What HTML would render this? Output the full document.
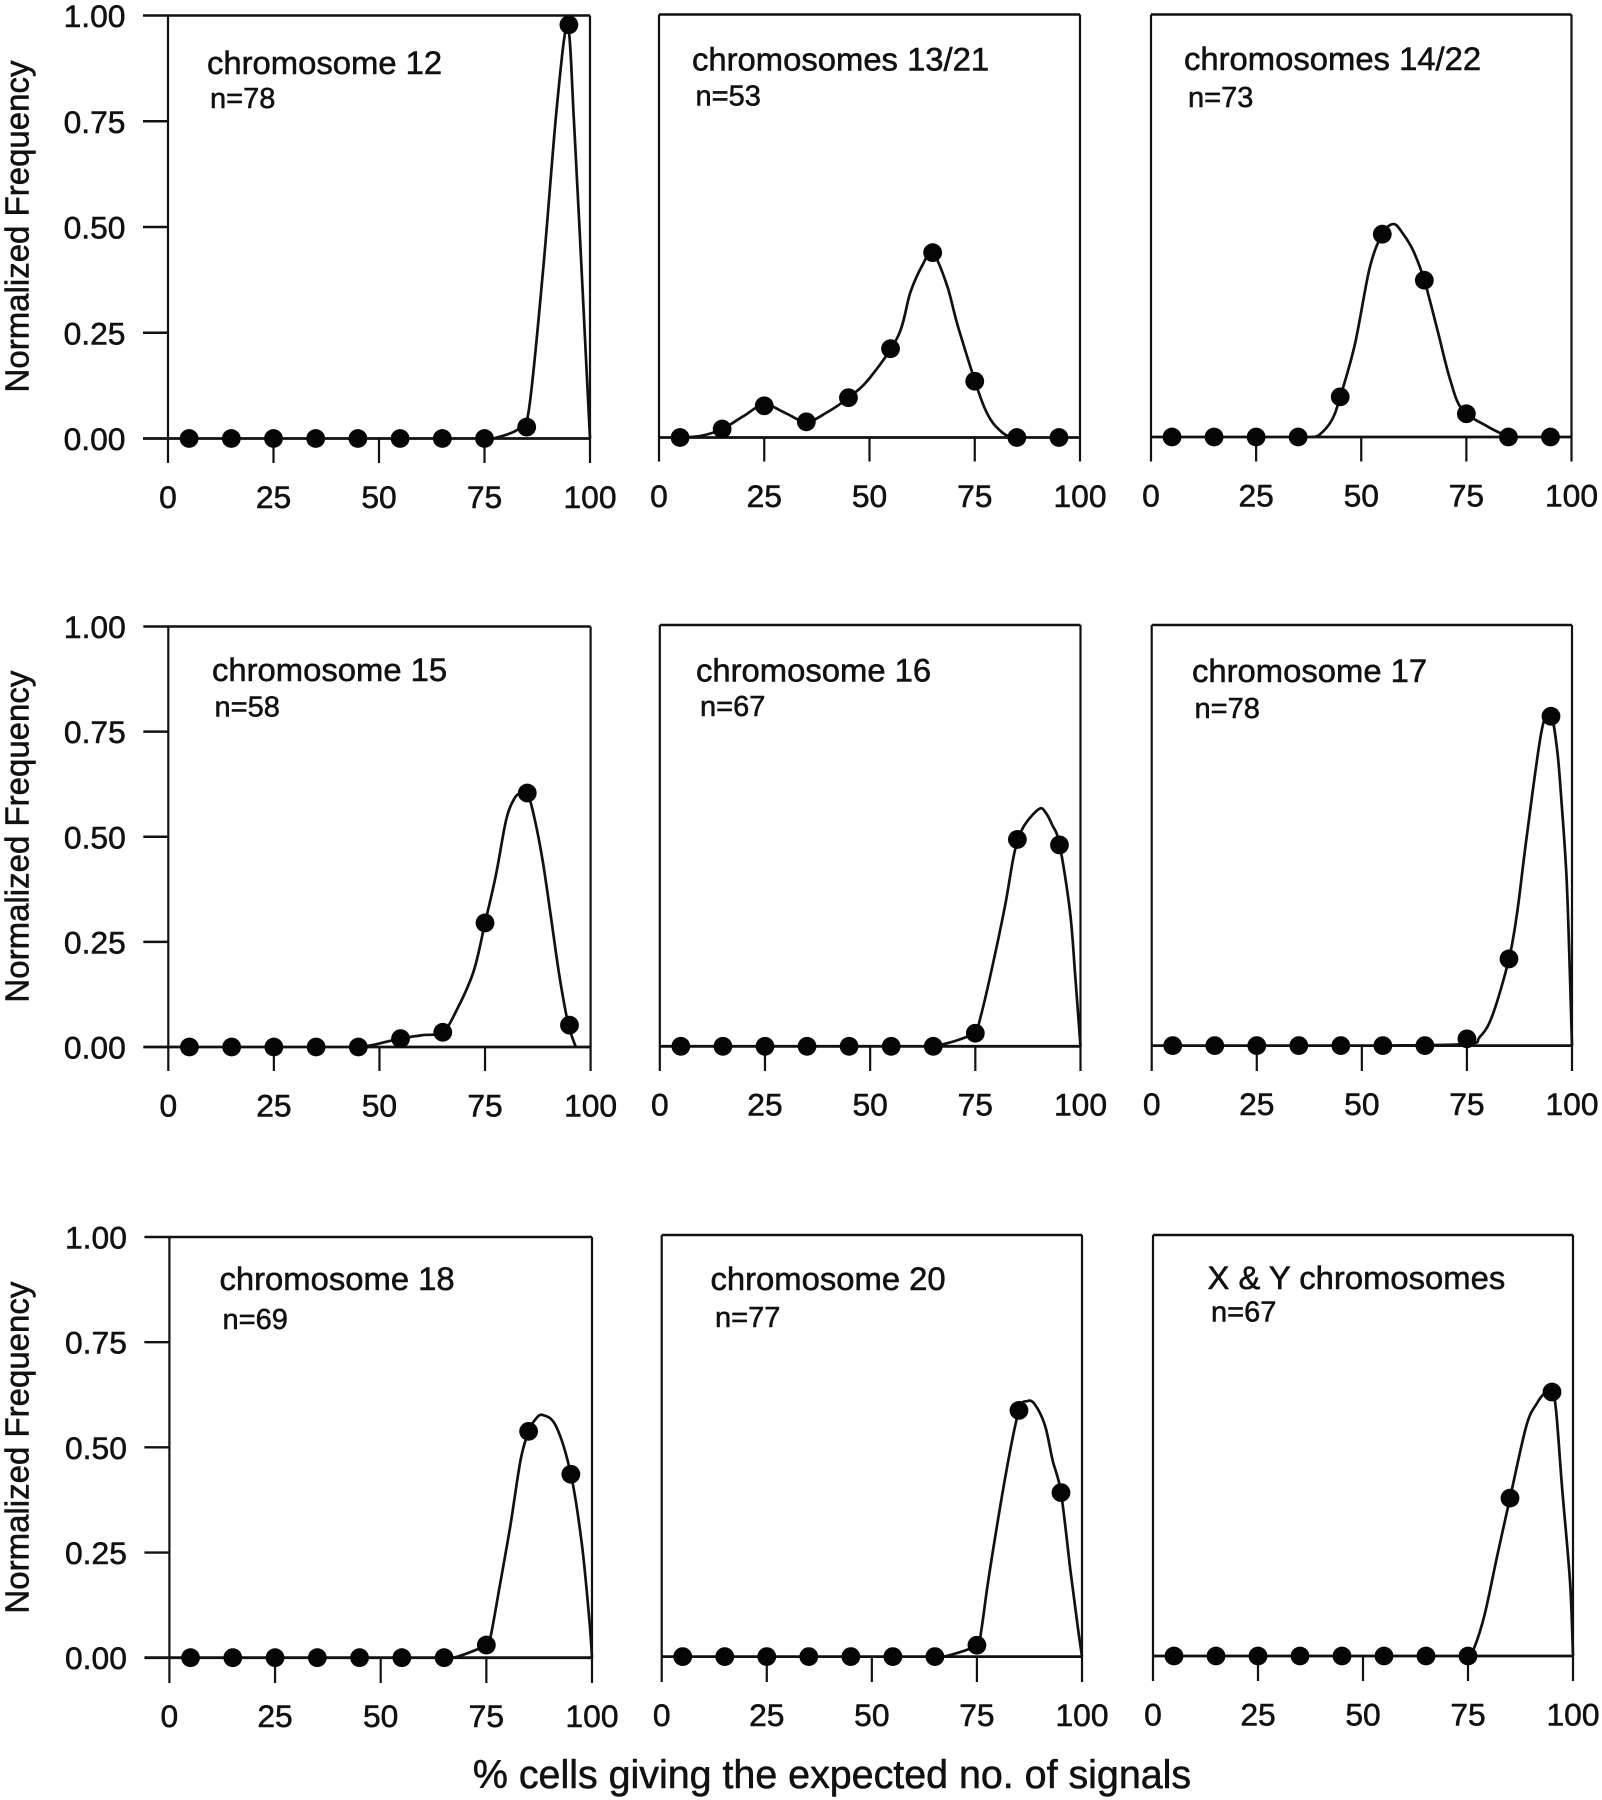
<!DOCTYPE html>
<html lang="en">
<head>
<meta charset="utf-8">
<title>Normalized frequency by chromosome</title>
<style>
html,body{margin:0;padding:0;background:#fff;width:1602px;height:1800px;overflow:hidden}
svg{display:block}
text{font-family:"Liberation Sans",Arial,sans-serif;fill:#111;stroke:#111;stroke-width:.55px}
.tick{font-size:31.8px}
.lbl{font-size:32.8px}
.n{font-size:29px}
</style>
</head>
<body>
<svg id="chart" width="1602" height="1800" viewBox="0 0 1602 1800" xmlns="http://www.w3.org/2000/svg">
<rect width="1602" height="1800" fill="#fff"/>
<text transform="translate(28.5,226.5) rotate(-90)" text-anchor="middle" font-size="33">Normalized Frequency</text>
<text transform="translate(28.5,836.6) rotate(-90)" text-anchor="middle" font-size="33">Normalized Frequency</text>
<text transform="translate(28.5,1447.6) rotate(-90)" text-anchor="middle" font-size="33">Normalized Frequency</text>
<text x="832" y="1788" text-anchor="middle" font-size="39.4">% cells giving the expected no. of signals</text>

<text class="lbl" x="207" y="74">chromosome 12</text>
<text class="n" x="210" y="108">n=78</text>
<text class="lbl" x="692" y="70.5">chromosomes 13/21</text>
<text class="n" x="695.5" y="105.5">n=53</text>
<text class="lbl" x="1184" y="70">chromosomes 14/22</text>
<text class="n" x="1188" y="107">n=73</text>
<text class="lbl" x="212" y="681">chromosome 15</text>
<text class="n" x="214.5" y="716.5">n=58</text>
<text class="lbl" x="696" y="681.5">chromosome 16</text>
<text class="n" x="700" y="716">n=67</text>
<text class="lbl" x="1192" y="682">chromosome 17</text>
<text class="n" x="1194.5" y="718">n=78</text>
<text class="lbl" x="219.5" y="1290">chromosome 18</text>
<text class="n" x="222.5" y="1329">n=69</text>
<text class="lbl" x="710.5" y="1290">chromosome 20</text>
<text class="n" x="715" y="1327">n=77</text>
<text class="lbl" x="1207.5" y="1289">X &amp; Y chromosomes</text>
<text class="n" x="1211" y="1321.5">n=67</text>
</svg>
<script>
// Shared axes
const bins = [5, 15, 25, 35, 45, 55, 65, 75, 85, 95];
const xTicks = [0, 25, 50, 75, 100];
const yTicks = [0, 0.25, 0.5, 0.75, 1];
const yTickLabels = ["0.00", "0.25", "0.50", "0.75", "1.00"];

// Points per panel (normalized frequency at each bin)
const valuesChr12 = [0, 0, 0, 0, 0, 0, 0, 0, 0.027, 0.978];
const valuesChr13 = [0, 0.02, 0.075, 0.037, 0.094, 0.21, 0.437, 0.133, 0, 0];
const valuesChr14 = [0, 0, 0, 0, 0.095, 0.48, 0.371, 0.055, 0, 0];
const valuesChr15 = [0, 0, 0, 0, 0, 0.02, 0.035, 0.295, 0.604, 0.052];
const valuesChr16 = [0, 0, 0, 0, 0, 0, 0, 0.031, 0.491, 0.478];
const valuesChr17 = [0, 0, 0, 0, 0, 0, 0, 0.016, 0.206, 0.783];
const valuesChr18 = [0, 0, 0, 0, 0, 0, 0, 0.03, 0.538, 0.436];
const valuesChr20 = [0, 0, 0, 0, 0, 0, 0, 0.027, 0.584, 0.389];
const valuesChrXY = [0, 0, 0, 0, 0, 0, 0, 0, 0.375, 0.627];

// Fitted curves
const curveXChr12 = [75, 77, 83, 85.5, 88.9, 92.2, 94.7, 96.2, 97.5, 99, 100];
const curveYChr12 = [0, 0, 0.022, 0.067, 0.40, 0.79, 0.975, 0.75, 0.5, 0.2, 0];
const curveXChr13 = [5, 10, 15, 20, 25, 30, 35, 40, 45, 50, 56.8, 59.7, 62.6, 65, 68.4, 71.3, 77.2, 81.5, 85];
const curveYChr13 = [0, 0.004, 0.02, 0.05, 0.078, 0.058, 0.037, 0.06, 0.094, 0.14, 0.24, 0.343, 0.408, 0.437, 0.36, 0.253, 0.073, 0.012, 0];
const curveXChr14 = [38, 40, 43, 45, 48.5, 52, 55, 57.7, 60, 62.4, 65, 68.2, 71.1, 74, 80, 85];
const curveYChr14 = [0, 0.005, 0.04, 0.095, 0.22, 0.4, 0.48, 0.504, 0.48, 0.44, 0.371, 0.25, 0.137, 0.065, 0.025, 0];
const curveXChr15 = [45, 48, 55, 60, 65, 68.4, 72.3, 75, 77.6, 80, 81.9, 83.5, 85, 86.8, 88.7, 90.6, 92.6, 94.7, 96.5];
const curveYChr15 = [0, 0.004, 0.02, 0.028, 0.036, 0.09, 0.18, 0.295, 0.41, 0.54, 0.59, 0.605, 0.607, 0.54, 0.44, 0.31, 0.17, 0.055, 0];
const curveXChr16 = [65, 70, 75, 76, 78.4, 82, 84.3, 86.4, 90.1, 91.7, 93.3, 95, 97.5, 98.8, 100];
const curveYChr16 = [0, 0.012, 0.033, 0.06, 0.16, 0.33, 0.46, 0.52, 0.563, 0.555, 0.525, 0.48, 0.32, 0.16, 0];
const curveXChr17 = [55, 75, 78, 81, 85, 87, 89.2, 92.8, 95, 96.5, 97.5, 98.7, 99.5, 100];
const curveYChr17 = [0, 0.004, 0.02, 0.07, 0.206, 0.32, 0.495, 0.75, 0.785, 0.7, 0.58, 0.4, 0.17, 0];
const curveXChr18 = [65, 68, 75, 76, 78.3, 80.7, 83.1, 85, 86.5, 88.3, 91.5, 95, 97.6, 99.4, 100];
const curveYChr18 = [0, 0.002, 0.03, 0.05, 0.178, 0.315, 0.47, 0.538, 0.565, 0.577, 0.55, 0.436, 0.27, 0.087, 0];
const curveXChr20 = [65, 68, 75, 76, 78, 82, 85, 87, 88.8, 91.2, 93, 95, 97.3, 99, 100];
const curveYChr20 = [0, 0.002, 0.027, 0.06, 0.2, 0.44, 0.584, 0.606, 0.598, 0.548, 0.466, 0.389, 0.2, 0.07, 0];
const curveXChrXY = [75, 76.5, 79, 82, 85, 88.9, 91.4, 93.3, 95, 96, 97.4, 99.3, 100];
const curveYChrXY = [0, 0.02, 0.1, 0.24, 0.375, 0.547, 0.6, 0.625, 0.63, 0.58, 0.4, 0.175, 0];

const NS = 'http://www.w3.org/2000/svg';
const INK = '#111';
const svg = document.getElementById('chart');

function addLine(parent, x1, y1, x2, y2, width) {
  const l = document.createElementNS(NS, 'line');
  l.setAttribute('x1', x1);
  l.setAttribute('y1', y1);
  l.setAttribute('x2', x2);
  l.setAttribute('y2', y2);
  l.setAttribute('stroke', INK);
  l.setAttribute('stroke-width', width);
  parent.appendChild(l);
  return l;
}

function smoothPath(pts) {
  let d = 'M' + pts[0][0].toFixed(2) + ' ' + pts[0][1].toFixed(2);
  for (let i = 0; i < pts.length - 1; i++) {
    const p0 = pts[Math.max(i - 1, 0)];
    const p1 = pts[i];
    const p2 = pts[i + 1];
    const p3 = pts[Math.min(i + 2, pts.length - 1)];
    const c1x = p1[0] + (p2[0] - p0[0]) / 6;
    const c1y = p1[1] + (p2[1] - p0[1]) / 6;
    const c2x = p2[0] - (p3[0] - p1[0]) / 6;
    const c2y = p2[1] - (p3[1] - p1[1]) / 6;
    d += 'C' + c1x.toFixed(2) + ' ' + c1y.toFixed(2) + ' ' + c2x.toFixed(2) + ' ' + c2y.toFixed(2) + ' ' + p2[0].toFixed(2) + ' ' + p2[1].toFixed(2);
  }
  return d;
}

function drawPanel(name, left, right, top, y0, bottom, showY, values, curveX, curveY) {
  const xScale = v => left + v / 100 * (right - left);
  const yScale = v => y0 - v * (y0 - top);
  const g = document.createElementNS(NS, 'g');
  
  
  svg.appendChild(g);

  const tickLeft = showY ? left - 25 : left;
  const frameTop = addLine(g, tickLeft, top, right, top, 2.4);
  
  
  const frameLeft = addLine(g, left, top, left, bottom, 2.2);
  
  
  const frameRight = addLine(g, right, top, right, bottom, 2.2);
  
  
  const baseline = addLine(g, tickLeft, y0, right, y0, 2.8);
  
  

  xTicks.forEach(t => {
    if (t > 0 && t < 100) {
      const tk = addLine(g, xScale(t), y0, xScale(t), bottom, 2.2);
      
      
    }
    const lab = document.createElementNS(NS, 'text');
    lab.setAttribute('class', 'tick');
    lab.setAttribute('x', xScale(t));
    lab.setAttribute('y', y0 + 69.3);
    lab.setAttribute('text-anchor', 'middle');
    lab.textContent = String(t);
    
    
    g.appendChild(lab);
  });

  if (showY) {
    yTicks.forEach((t, i) => {
      if (t > 0 && t < 1) {
        const tk = addLine(g, tickLeft, yScale(t), left, yScale(t), 2.4);
        
        
      }
      const lab = document.createElementNS(NS, 'text');
      lab.setAttribute('class', 'tick');
      lab.setAttribute('x', left - 42.5);
      lab.setAttribute('y', yScale(t) + 11.5);
      lab.setAttribute('text-anchor', 'end');
      lab.textContent = yTickLabels[i];
      
      
      g.appendChild(lab);
    });
  }

  const curve = document.createElementNS(NS, 'path');
  curve.setAttribute('d', smoothPath(curveX.map((x, i) => [xScale(x), yScale(curveY[i])])));
  curve.setAttribute('fill', 'none');
  curve.setAttribute('stroke', INK);
  curve.setAttribute('stroke-width', '2.7');
  
  
  g.appendChild(curve);

  bins.forEach((b, i) => {
    const c = document.createElementNS(NS, 'circle');
    c.setAttribute('cx', xScale(b));
    c.setAttribute('cy', yScale(values[i]));
    c.setAttribute('r', 9.4);
    c.setAttribute('fill', '#050505');
    
    
    g.appendChild(c);
  });
}

drawPanel('chromosome-12', 168, 590, 15.5, 438.5, 463, true, valuesChr12, curveXChr12, curveYChr12);
drawPanel('chromosomes-13-21', 659, 1080, 14.5, 437.5, 461.5, false, valuesChr13, curveXChr13, curveYChr13);
drawPanel('chromosomes-14-22', 1151, 1571.5, 14.5, 437, 461.5, false, valuesChr14, curveXChr14, curveYChr14);
drawPanel('chromosome-15', 168.3, 590.6, 626.5, 1047, 1071, true, valuesChr15, curveXChr15, curveYChr15);
drawPanel('chromosome-16', 659.8, 1080.5, 625, 1046.3, 1071, false, valuesChr16, curveXChr16, curveYChr16);
drawPanel('chromosome-17', 1151.7, 1572, 625, 1045.6, 1071, false, valuesChr17, curveXChr17, curveYChr17);
drawPanel('chromosome-18', 169.4, 592, 1237, 1657.7, 1683, true, valuesChr18, curveXChr18, curveYChr18);
drawPanel('chromosome-20', 661.7, 1082, 1235, 1656.6, 1682, false, valuesChr20, curveXChr20, curveYChr20);
drawPanel('x-y-chromosomes', 1153, 1573, 1235, 1656, 1681, false, valuesChrXY, curveXChrXY, curveYChrXY);
</script>
</body>
</html>
